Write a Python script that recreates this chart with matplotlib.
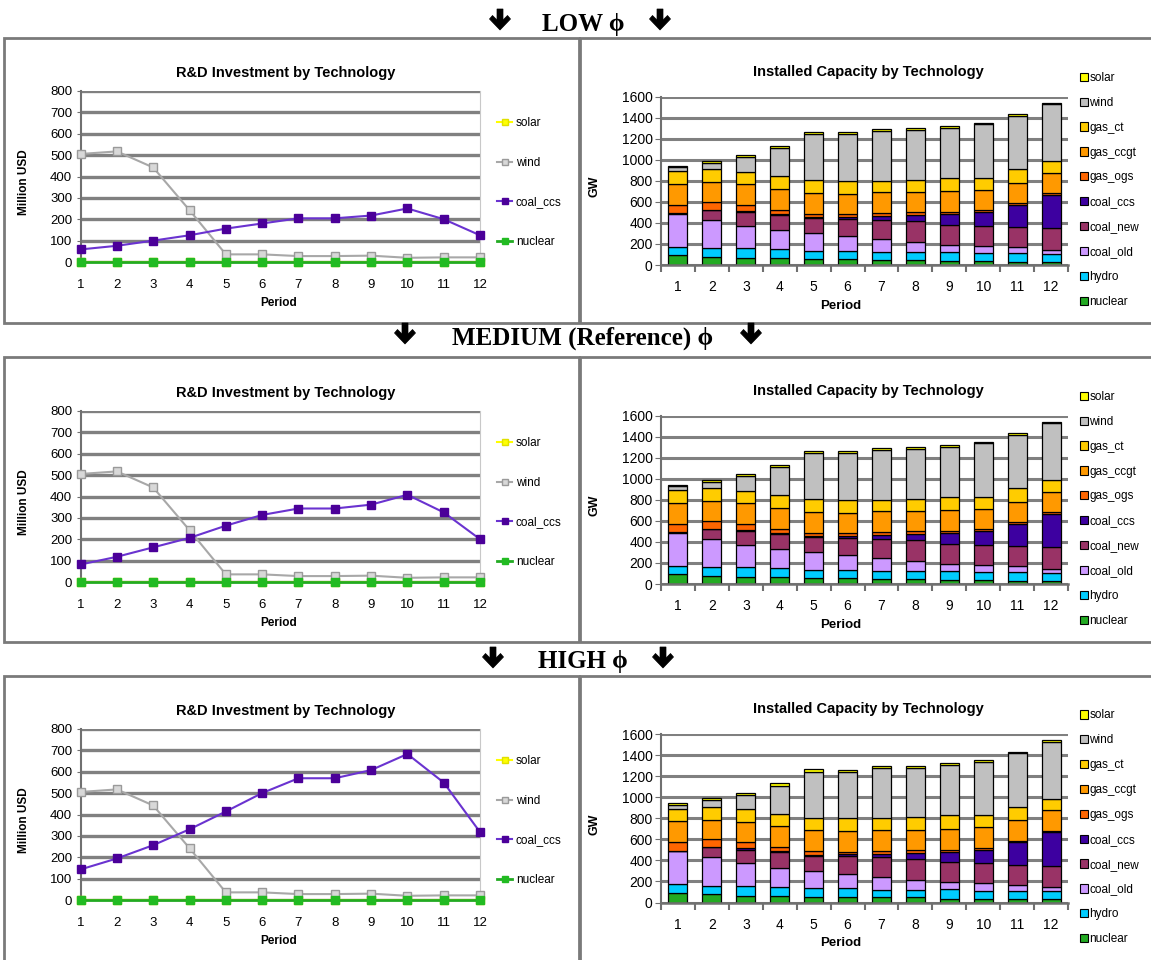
import matplotlib
matplotlib.use("Agg")
import matplotlib.pyplot as plt
from matplotlib.patches import Rectangle, Patch, Polygon
from matplotlib import font_manager

W, H = 1151, 960

# ---- data -------------------------------------------------------------
periods = list(range(1, 13))

# R&D investment (Million USD)
rd_solar = [0, 0, 0, 0, 0, 0, 0, 0, 0, 0, 0, 0]
rd_wind = [505, 517, 442, 243, 37, 37, 29, 29, 31, 21, 23, 23]
rd_nuclear = [0, 0, 0, 0, 0, 0, 0, 0, 0, 0, 0, 0]
rd_coal_ccs_low = [60, 77, 101, 126, 157, 181, 205, 205, 218, 251, 201, 126]
rd_coal_ccs_med = [83, 119, 163, 207, 264, 314, 344, 344, 362, 408, 326, 201]
rd_coal_ccs_high = [144, 195, 257, 331, 414, 500, 569, 569, 607, 682, 549, 318]

# installed capacity (GW), stacked bottom -> top
cap_nuclear = [95, 80, 64, 64, 54, 54, 48, 48, 38, 38, 32, 32]
cap_hydro = [78, 80, 95, 86, 80, 80, 73, 73, 89, 73, 79, 73]
cap_coal_old = [312, 270, 215, 180, 168, 137, 124, 96, 64, 71, 58, 38]
cap_coal_new = [6, 95, 127, 147, 144, 169, 185, 197, 191, 191, 191, 207]
cap_coal_ccs = [0, 0, 15, 12, 10, 19, 32, 57, 102, 130, 213, 319]
cap_gas_ogs = [82, 75, 55, 35, 32, 25, 32, 32, 19, 16, 16, 13]
cap_gas_ccgt = [200, 187, 197, 200, 198, 191, 197, 188, 197, 198, 191, 194]
cap_gas_ct = [118, 121, 120, 118, 118, 128, 112, 121, 128, 111, 128, 111]
cap_wind = [40, 63, 135, 270, 440, 439, 471, 468, 478, 510, 509, 542]
cap_solar = [14, 18, 22, 20, 22, 22, 20, 20, 20, 15, 15, 15]

scenarios = ["LOW \u03d5", "MEDIUM (Reference) \u03d5", "HIGH \u03d5"]
rd_coal_ccs = [rd_coal_ccs_low, rd_coal_ccs_med, rd_coal_ccs_high]

# ---- style ------------------------------------------------------------
NARROW = ["Liberation Sans Narrow", "Liberation Sans", "DejaVu Sans"]
WIDE = ["Liberation Sans", "DejaVu Sans"]
SERIF = ["Liberation Serif", "DejaVu Serif"]
GRID = "#808080"

stack = [
    ("nuclear", cap_nuclear, "#22AA22"),
    ("hydro", cap_hydro, "#00CCFF"),
    ("coal_old", cap_coal_old, "#CC99FF"),
    ("coal_new", cap_coal_new, "#993366"),
    ("coal_ccs", cap_coal_ccs, "#3D00A0"),
    ("gas_ogs", cap_gas_ogs, "#FF6600"),
    ("gas_ccgt", cap_gas_ccgt, "#FF9900"),
    ("gas_ct", cap_gas_ct, "#FFCC00"),
    ("wind", cap_wind, "#C0C0C0"),
    ("solar", cap_solar, "#FFFF00"),
]

# thick down-arrow outline, pixel offsets from (centre x, top y)
ARROW = [(-3, 0), (3, 0), (3, 11), (7.5, 6.5), (10.5, 10), (0, 21),
         (-10.5, 10), (-7.5, 6.5), (-3, 11)]


def fx(x):
    return x / W


def fy(y):
    return 1 - y / H


def rect(x0, y0, x1, y1):
    return [fx(x0), fy(y1), (x1 - x0) / W, (y1 - y0) / H]


def style_ticks(ax, size):
    for lab in ax.get_xticklabels() + ax.get_yticklabels():
        lab.set_fontfamily(NARROW)
        lab.set_fontsize(size)


def line_panel(fig, dy, coal_ccs):
    ax = fig.add_axes(rect(80.6, 90.7 + dy, 480, 262.3 + dy))
    ax.set_xlim(1, 12)
    ax.set_ylim(0, 800)
    ax.set_yticks(range(0, 801, 100))
    ax.set_xticks(periods)
    ax.yaxis.grid(True, color=GRID, lw=2.4)
    ax.set_axisbelow(True)
    ax.spines["top"].set_visible(False)
    ax.spines["right"].set_color("#C8C8C8")
    ax.spines["left"].set_color("#707070")
    ax.spines["left"].set_linewidth(1.5)
    ax.spines["bottom"].set_color("#707070")
    ax.tick_params(axis="both", color="#707070", length=3)
    ax.tick_params(axis="x", pad=9)
    ax.tick_params(axis="y", pad=3)
    style_ticks(ax, 9.5)

    kw = dict(marker="s", markersize=5.5, clip_on=False, zorder=3)
    ax.plot(periods, rd_solar, color="#FFFF00", mfc="#FFFF00", mec="#E0E000",
            label="solar", lw=1.5, **kw)
    ax.plot(periods, rd_wind, color="#A8A8A8", mfc="#D8D8D8", mec="#9A9A9A",
            label="wind", lw=1.5, **kw)
    ax.plot(periods, coal_ccs, color="#6A33D0", mfc="#4B0099", mec="#4B0099",
            label="coal_ccs", lw=1.5, **kw)
    ax.plot(periods, rd_nuclear, color="#22AA22", mfc="#22BB22", mec="#22BB22",
            label="nuclear", lw=2, **kw)

    fig.text(fx(285.5), fy(73.3 + dy), "R&D Investment by Technology",
             ha="center", va="center", fontsize=10.5, fontweight="bold",
             family=NARROW)
    fig.text(fx(24), fy(181.7 + dy), "Million USD", ha="center", va="center",
             rotation=90, fontsize=8.5, fontweight="bold", family=WIDE)
    fig.text(fx(279), fy(303.3 + dy), "Period", ha="center", va="center",
             fontsize=8.5, fontweight="bold", family=NARROW)
    leg = ax.legend(loc="upper left", bbox_to_anchor=(fx(497), fy(117 + dy)),
                    bbox_transform=fig.transFigure, frameon=False,
                    handlelength=1.3, handletextpad=0.3, labelspacing=2.35,
                    borderpad=0, borderaxespad=0,
                    prop=font_manager.FontProperties(family=NARROW, size=8.5))
    for h in leg.legend_handles:
        h.set_markersize(5)
    return ax


def bar_panel(fig, dy):
    ax = fig.add_axes(rect(661, 96.7 + dy, 1068, 265 + dy))
    ax.set_xlim(0.5, 12.5)
    ax.set_ylim(0, 1600)
    ax.set_yticks(range(0, 1601, 200))
    ax.set_xticks(periods)
    ax.set_xticks([p + 0.5 for p in [0] + periods], minor=True)
    ax.yaxis.grid(True, color=GRID, lw=2.2)
    ax.set_axisbelow(True)
    for s in ("top", "right"):
        ax.spines[s].set_visible(False)
    ax.spines["left"].set_color("#707070")
    ax.spines["left"].set_linewidth(1.5)
    ax.spines["bottom"].set_color("#707070")
    ax.spines["bottom"].set_linewidth(1.8)
    ax.tick_params(axis="x", which="major", length=0, pad=11)
    ax.tick_params(axis="x", which="minor", length=5, color="#707070", width=1.5)
    ax.tick_params(axis="y", length=4, color="#707070", pad=2)
    style_ticks(ax, 10)

    bottom = [0] * len(periods)
    handles = []
    for name, vals, col in stack:
        ax.bar(periods, vals, width=0.56, bottom=bottom, color=col,
               edgecolor="black", linewidth=0.9, zorder=2)
        bottom = [b + v for b, v in zip(bottom, vals)]
        handles.append(Patch(facecolor=col, edgecolor="black", linewidth=0.8,
                             label=name))
    handles = handles[::-1]

    fig.text(fx(868), fy(71.7 + dy), "Installed Capacity by Technology",
             ha="center", va="center", fontsize=10.5, fontweight="bold",
             family=NARROW)
    fig.text(fx(595), fy(186.7 + dy), "GW", ha="center", va="center",
             rotation=90, fontsize=9, fontweight="bold", family=WIDE)
    fig.text(fx(841), fy(305.7 + dy), "Period", ha="center", va="center",
             fontsize=9.5, fontweight="bold", family=NARROW)
    ax.legend(handles=handles, loc="upper left",
              bbox_to_anchor=(fx(1080), fy(72 + dy)),
              bbox_transform=fig.transFigure, frameon=False,
              handlelength=0.65, handleheight=0.7, handletextpad=0.15,
              labelspacing=1.09, borderpad=0, borderaxespad=0,
              prop=font_manager.FontProperties(family=NARROW, size=8.5))
    return ax


def draw_arrow(fig, cx, top):
    pts = [(fx(cx + dx), fy(top + dyy)) for dx, dyy in ARROW]
    fig.add_artist(Polygon(pts, closed=True, transform=fig.transFigure,
                           facecolor="black", edgecolor="black", lw=0.5))


fig = plt.figure(figsize=(W / 100, H / 100), dpi=100)
fig.patch.set_facecolor("white")

row_dy_line = [0, 320, 638]
row_dy_bar = [0, 319, 637.5]
panel_top = [38, 357, 676]
header_base = [31.5, 345, 668]
arrow_top = [9, 323, 647]
arrows_x = [(500, 660), (405, 751), (493, 663)]

for i in range(3):
    t = panel_top[i]
    b = min(t + 285, H + 5)
    fig.add_artist(Rectangle((fx(4), fy(b)), (579 - 4) / W, (b - t) / H,
                             transform=fig.transFigure, fill=False,
                             edgecolor="#7A7A7A", linewidth=2, clip_on=False))
    fig.add_artist(Rectangle((fx(580), fy(b)), (1156 - 580) / W, (b - t) / H,
                             transform=fig.transFigure, fill=False,
                             edgecolor="#7A7A7A", linewidth=2, clip_on=False))
    line_panel(fig, row_dy_line[i], rd_coal_ccs[i])
    bar_panel(fig, row_dy_bar[i])

    fig.text(fx(583), fy(header_base[i]), scenarios[i], ha="center",
             va="baseline", fontsize=18, fontweight="bold", family=SERIF)
    for xa in arrows_x[i]:
        draw_arrow(fig, xa, arrow_top[i])

fig.savefig("out.png", dpi=100)
